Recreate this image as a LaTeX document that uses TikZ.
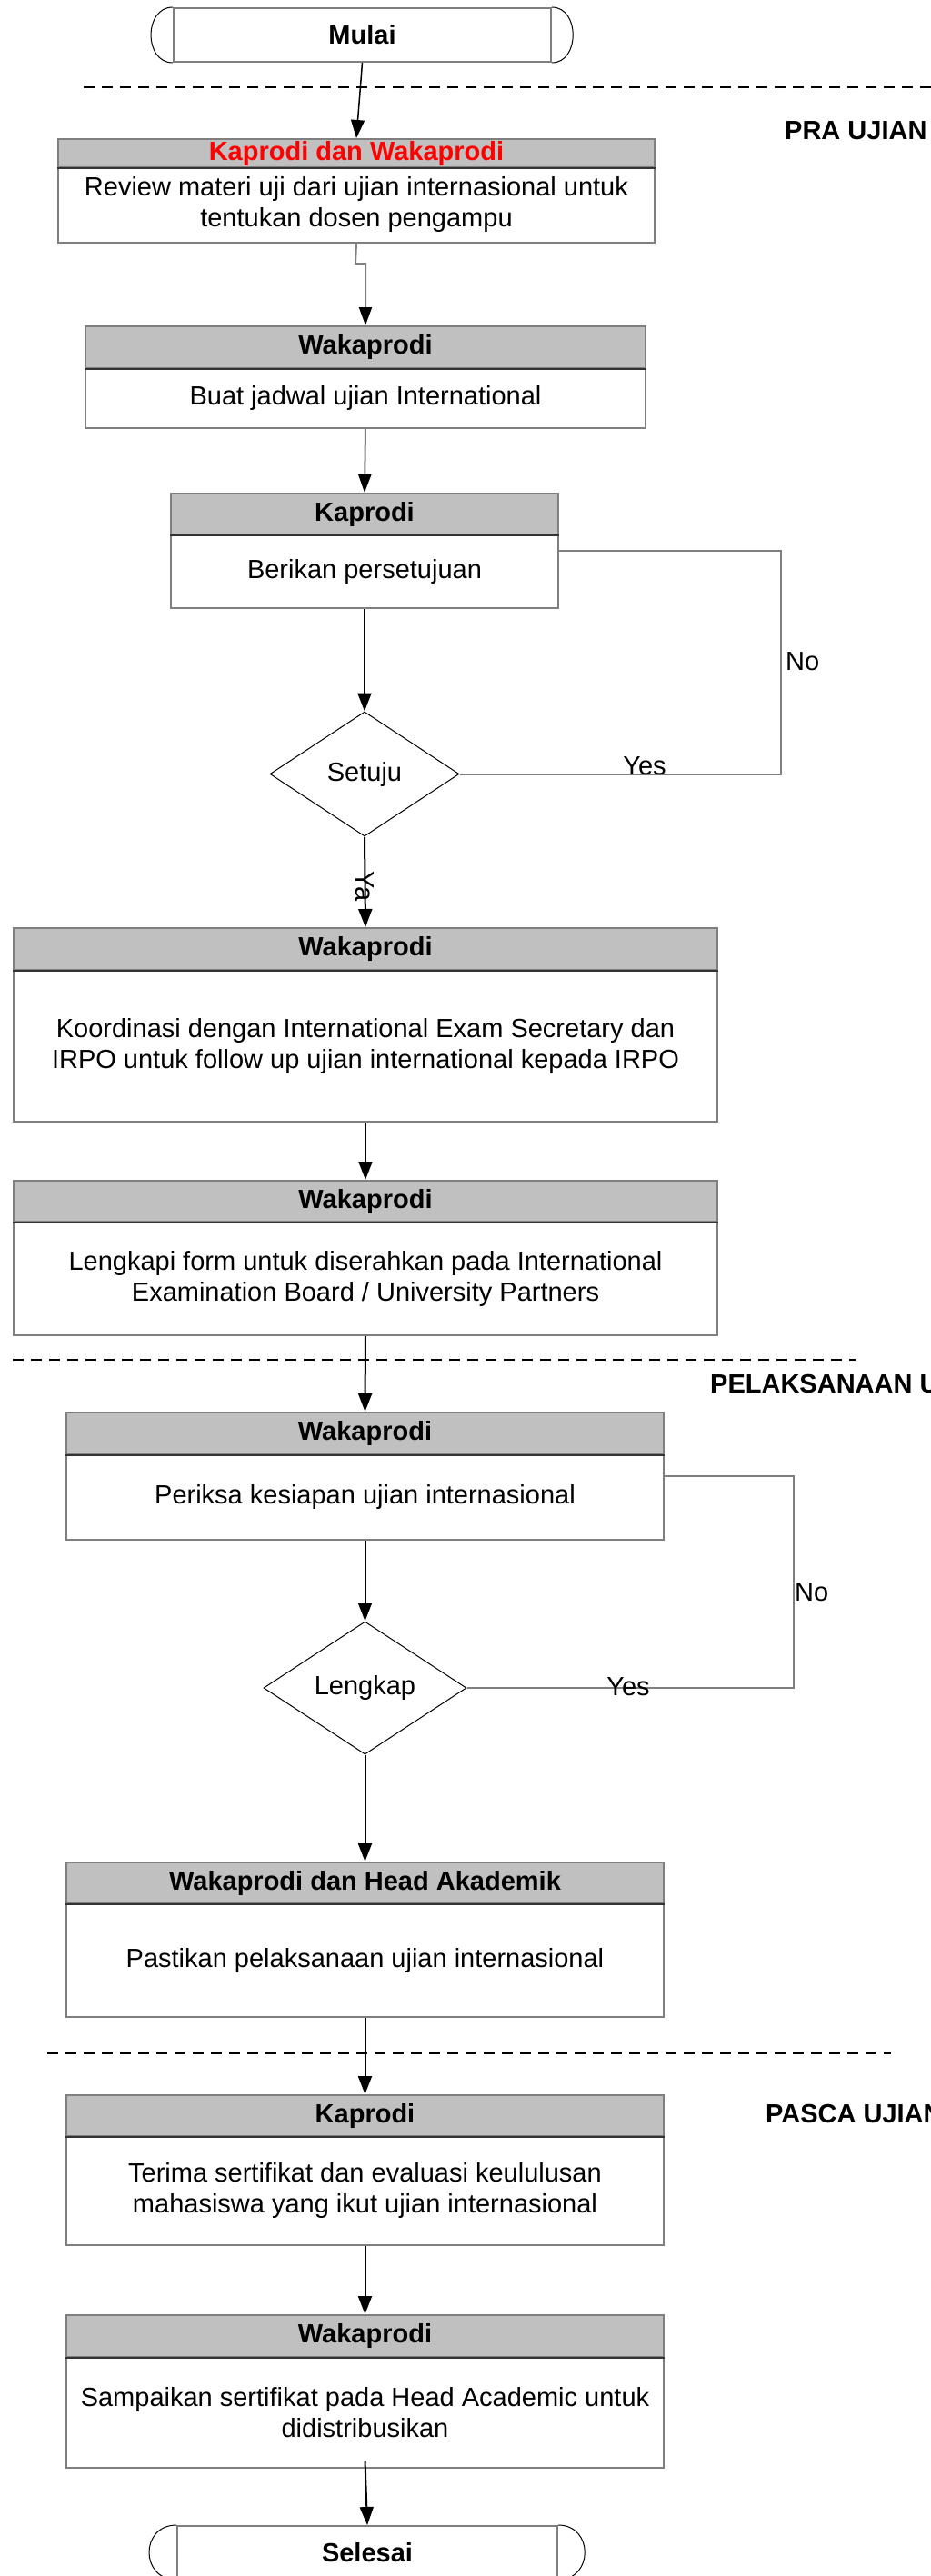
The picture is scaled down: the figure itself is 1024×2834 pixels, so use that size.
\documentclass[tikz,border=0pt]{standalone}
\usepackage{fontspec}
\setmainfont{Liberation Sans}
\usetikzlibrary{arrows.meta,shapes.geometric}
\definecolor{hdrgray}{HTML}{C0C0C0}
\definecolor{lgray}{HTML}{7F7F7F}
\definecolor{dgray}{HTML}{333333}
\begin{document}
\begin{tikzpicture}[x=1pt,y=-1pt,
  txt/.style={font=\fontsize{29}{34}\selectfont},
  hdr/.style={draw=lgray, line width=2pt, fill=hdrgray, anchor=north west, inner sep=0pt,
    font=\fontsize{29}{34}\selectfont\bfseries, text height=21pt, text depth=6pt},
  bdy/.style={txt, draw=lgray, line width=2pt, anchor=north west, inner sep=0pt, align=center},
  divider/.style={draw=dgray, line width=2.5pt},
  dec/.style={diamond, draw=black, line width=1pt, inner sep=0pt, txt},
  term/.style={draw=lgray, line width=2pt, inner sep=0pt, font=\fontsize{29}{34}\selectfont\bfseries},
  capline/.style={draw=black, line width=1pt},
  arr/.style={-{Triangle[length=20pt,width=15pt]}, line width=2pt, draw=black},
  garr/.style={-{Triangle[length=20pt,width=14pt,color=black]}, line width=2pt, draw=lgray},
  gline/.style={line width=2pt, draw=lgray},
  lbl/.style={txt, inner sep=0pt},
  phase/.style={font=\fontsize{29}{34}\selectfont\bfseries, anchor=west, inner sep=0pt},
  sepline/.style={draw=black, line width=2.5pt, dash pattern=on 12pt off 8pt}
]
\useasboundingbox (0,0) rectangle (1024,2834);
\clip (0,0) rectangle (1024,2834);
\fill[white] (0,0) rectangle (1024,2834);

% phase separators and labels
\draw[sepline] (92,96) -- (1024,96);
\draw[sepline] (14,1496) -- (941,1496);
\draw[sepline] (52,2259) -- (980,2259);
\node[phase] (p1) at (863,144) {PRA UJIAN};
\node[phase] (p2) at (781,1522) {PELAKSANAAN UJIAN};
\node[phase] (p3) at (842,2325) {PASCA UJIAN};

% start terminator
\node[term, minimum width=415pt, minimum height=59pt] (m) at (398.5,38.5) {Mulai};
\draw[capline] (m.north west) .. controls +(-32,0) and +(-32,0) .. (m.south west);
\draw[capline] (m.north east) .. controls +(31,0) and +(31,0) .. (m.south east);

% box 1
\node[hdr, minimum width=656pt, minimum height=31pt, text=red] (h1) at (63,152) {Kaprodi dan Wakaprodi};
\node[bdy, minimum width=656pt, minimum height=83pt] (b1) at (63,183) {Review materi uji dari ujian internasional untuk\\tentukan dosen pengampu};
\draw[divider] (h1.south west) -- (h1.south east);

% box 2
\node[hdr, minimum width=616pt, minimum height=46pt] (h2) at (93,358) {Wakaprodi};
\node[bdy, minimum width=616pt, minimum height=66pt] (b2) at (93,404) {Buat jadwal ujian International};
\draw[divider] (h2.south west) -- (h2.south east);

% box 3
\node[hdr, minimum width=426pt, minimum height=45pt] (h3) at (187,542) {Kaprodi};
\node[bdy, minimum width=426pt, minimum height=81pt] (b3) at (187,587) {Berikan persetujuan};
\draw[divider] (h3.south west) -- (h3.south east);

% decision 1
\node[dec, minimum width=208pt, minimum height=137pt] (d1) at (401,851.5) {Setuju};

% box 4
\node[hdr, minimum width=774pt, minimum height=46pt] (h4) at (14,1020) {Wakaprodi};
\node[bdy, minimum width=774pt, minimum height=167pt] (b4) at (14,1066) {Koordinasi dengan International Exam Secretary dan\\IRPO untuk follow up ujian international kepada IRPO};
\draw[divider] (h4.south west) -- (h4.south east);

% box 5
\node[hdr, minimum width=774pt, minimum height=45pt] (h5) at (14,1298) {Wakaprodi};
\node[bdy, minimum width=774pt, minimum height=125pt] (b5) at (14,1343) {Lengkapi form untuk diserahkan pada International\\Examination Board / University Partners};
\draw[divider] (h5.south west) -- (h5.south east);

% box 6
\node[hdr, minimum width=657pt, minimum height=46pt] (h6) at (72,1553) {Wakaprodi};
\node[bdy, minimum width=657pt, minimum height=94pt] (b6) at (72,1599) {Periksa kesiapan ujian internasional};
\draw[divider] (h6.south west) -- (h6.south east);

% decision 2
\node[dec, minimum width=223pt, minimum height=146pt] (d2) at (401.5,1857) {Lengkap};

% box 7
\node[hdr, minimum width=657pt, minimum height=45pt] (h7) at (72,2048) {Wakaprodi dan Head Akademik};
\node[bdy, minimum width=657pt, minimum height=125pt] (b7) at (72,2093) {Pastikan pelaksanaan ujian internasional};
\draw[divider] (h7.south west) -- (h7.south east);

% box 8
\node[hdr, minimum width=657pt, minimum height=45pt] (h8) at (72,2304) {Kaprodi};
\node[bdy, minimum width=657pt, minimum height=120pt] (b8) at (72,2349) {Terima sertifikat dan evaluasi keululusan\\mahasiswa yang ikut ujian internasional};
\draw[divider] (h8.south west) -- (h8.south east);

% box 9
\node[hdr, minimum width=657pt, minimum height=46pt] (h9) at (72,2546) {Wakaprodi};
\node[bdy, minimum width=657pt, minimum height=122pt] (b9) at (72,2592) {Sampaikan sertifikat pada Head Academic untuk\\didistribusikan};
\draw[divider] (h9.south west) -- (h9.south east);

% end terminator
\node[term, minimum width=418pt, minimum height=58pt] (s) at (404,2808) {Selesai};
\draw[capline] (s.north west) .. controls +(-40,0) and +(-40,0) .. (s.south west);
\draw[capline] (s.north east) .. controls +(39,0) and +(39,0) .. (s.south east);

% connectors
\draw[arr, line width=1.5pt] (m.south) -- (h1.north);
\coordinate (e1) at (391,290);
\draw[garr] (b1.south) -- (e1) -| (h2.north);
\draw[garr] (b2.south) -- (h3.north);
\draw[arr] (b3.south) -- (d1.north);
\coordinate (n1) at (859,606);
\draw[gline] (d1.east) -| (n1) -- (b3.east |- n1);
\node[lbl, anchor=south] (y1) at (709,853) {Yes};
\node[lbl, anchor=west] (no1) at (864,728) {No};
\draw[arr] (d1.south) -- node[lbl, rotate=-90, pos=0.55] (ya) {Ya} (h4.north);
\draw[arr] (b4.south) -- (h5.north);
\draw[arr] (b5.south) -- (h6.north);
\draw[arr] (b6.south) -- (d2.north);
\coordinate (n2) at (873,1624);
\draw[gline] (d2.east) -| (n2) -- (b6.east |- n2);
\node[lbl] (y2) at (691,1856) {Yes};
\node[lbl, anchor=west] (no2) at (874,1752) {No};
\draw[arr] (d2.south) -- (h7.north);
\draw[arr] (b7.south) -- (h8.north);
\draw[arr] (b8.south) -- (h9.north);
\draw[arr] ([yshift=9pt]b9.south) -- (s.north);
\end{tikzpicture}
\end{document}
